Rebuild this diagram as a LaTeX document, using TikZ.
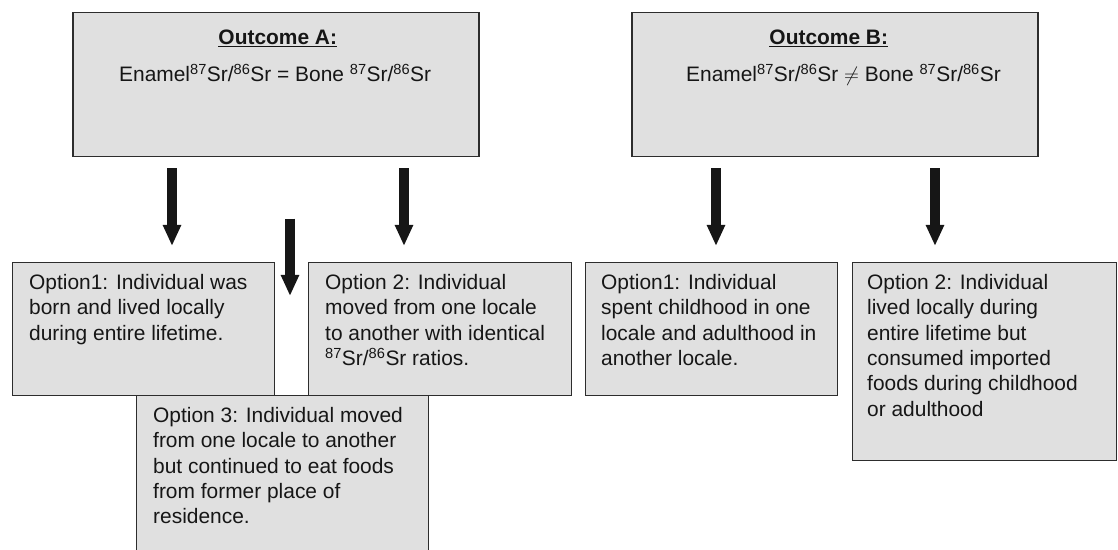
\documentclass[tikz,border=0pt]{standalone}
\usepackage{fontspec}
\setmainfont{Liberation Sans}
\usetikzlibrary{arrows.meta}
\definecolor{boxgrey}{RGB}{224, 224, 224}
\definecolor{edgegrey}{RGB}{45, 45, 45}
\definecolor{arrowblack}{RGB}{22, 22, 22}
\tikzset{
  outbox/.style={draw=edgegrey, fill=boxgrey, line width=1.5bp, anchor=north west, inner sep=0pt, minimum width=406bp, minimum height=144bp},
  optbox/.style={draw=edgegrey, fill=boxgrey, line width=1.3bp, anchor=north west, inner sep=0pt},
  outtext/.style={inner sep=0pt, text=arrowblack, font=\fontsize{21}{25.5}\selectfont},
  opttext/.style={anchor=north west, align=left, inner sep=0pt, text=arrowblack, font=\fontsize{21}{25.5}\selectfont},
  bigarrow/.style={arrowblack, line width=10bp, -{Triangle[width=17bp, length=21bp]}, shorten <=11bp, shorten >=16bp}
}
\newcommand{\srr}{\textsuperscript{87}Sr/\textsuperscript{86}Sr}
\begin{document}
\begin{tikzpicture}[x=1bp, y=-1bp]
  \useasboundingbox (0,0) rectangle (1118,550);
  % resultados
  \node[outbox] (outA) at (72,12) {};
  \node[outbox] (outB) at (631,12) {};
  \node[outtext, anchor=base] (hA) at ([shift={(2bp,-33bp)}]outA.north) {\underline{\textbf{Outcome A:}}};
  \node[outtext, anchor=base west] (eA) at ([shift={(47bp,-70bp)}]outA.north west) {Enamel\srr{} = Bone \srr};
  \node[outtext, anchor=base] (hB) at ([shift={(-6bp,-33bp)}]outB.north) {\underline{\textbf{Outcome B:}}};
  \node[outtext, anchor=base west] (eB) at ([shift={(55bp,-70bp)}]outB.north west) {Enamel\srr{} $\neq$ Bone \srr};
  % opciones
  \node[optbox, minimum width=262bp, minimum height=133bp] (o1) at (12,262) {};
  \node[optbox, minimum width=263bp, minimum height=133bp] (o2) at (308,262) {};
  \node[optbox, minimum width=292bp, minimum height=170bp] (o3) at (136,395) {};
  \node[optbox, minimum width=252bp, minimum height=133bp] (ob1) at (585,262) {};
  \node[optbox, minimum width=264bp, minimum height=198bp] (ob2) at (852,262) {};
  \node[opttext] (t1) at ([shift={(17bp,-12bp)}]o1.north west) {Option1: Individual was\\born and lived locally\\during entire lifetime.};
  \node[opttext] (t2) at ([shift={(17bp,-12bp)}]o2.north west) {Option 2: Individual\\moved from one locale\\to another with identical\\\srr{} ratios.};
  \node[opttext] (t3) at ([shift={(17bp,-12bp)}]o3.north west) {Option 3: Individual moved\\from one locale to another\\but continued to eat foods\\from former place of\\residence.};
  \node[opttext] (tb1) at ([shift={(16bp,-12bp)}]ob1.north west) {Option1: Individual\\spent childhood in one\\locale and adulthood in\\another locale.};
  \node[opttext] (tb2) at ([shift={(15bp,-12bp)}]ob2.north west) {Option 2: Individual\\lived locally during\\entire lifetime but\\consumed imported\\foods during childhood\\or adulthood};
  % flechas
  \foreach \src/\dst/\col in {outA/o1/172, outA/o2/404, outB/ob1/716, outB/ob2/935}
    \draw[bigarrow] (\src.south -| \col,0) -- (\dst.north -| \col,0);
  \draw[bigarrow, shorten <=61bp, shorten >=99bp] (outA.south -| 290,0) -- (o3.north -| 290,0);
\end{tikzpicture}
\end{document}
